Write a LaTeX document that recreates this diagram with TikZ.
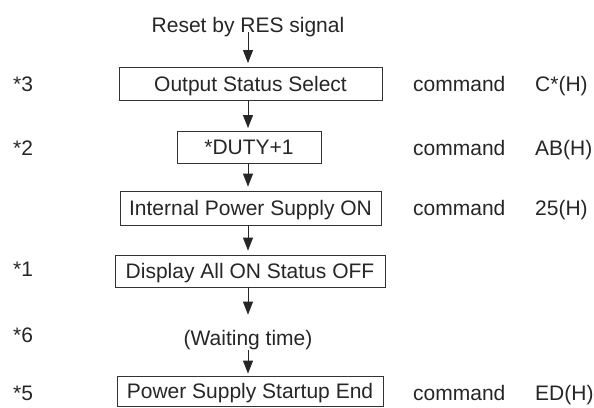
\documentclass[tikz,border=0pt]{standalone}
\usepackage{fontspec}
\setmainfont{Liberation Sans}
\usetikzlibrary{arrows.meta}
\begin{document}
\begin{tikzpicture}[x=1pt,y=-1pt,
  every node/.style={font=\fontsize{21}{24}\selectfont, text=black!85, inner sep=0pt},
  box/.style={draw=black!80, line width=0.9pt, text height=15pt, text depth=0pt, anchor=center},
  lbl/.style={anchor=base west},
  arr/.style={draw=black!85, line width=0.9pt, -{Triangle[width=10pt,length=13pt]}}]
\useasboundingbox (0,0) rectangle (594,407);
% top text
\node[anchor=base] (reset) at (248,32) {Reset by RES signal};
% boxes
\node[box, minimum width=263pt, minimum height=33pt] (b1) at (250.5,83.5) {Output Status Select};
\node[box, minimum width=144pt, minimum height=32pt] (b2) at (249,147) {*DUTY+1};
\node[box, minimum width=261pt, minimum height=34pt] (b3) at (250.5,208) {Internal Power Supply ON};
\node[box, minimum width=270pt, minimum height=32pt] (b4) at (250,271) {Display All ON Status OFF};
\node[anchor=base] (wait) at (248,345) {(Waiting time)};
\node[box, minimum width=266pt, minimum height=30pt] (b5) at (250,391) {Power Supply Startup End};
% left labels
\node[lbl] (l3) at (13,91.7) {*3};
\node[lbl] (l2) at (13,155) {*2};
\node[lbl] (l1) at (13,276.7) {*1};
\node[lbl] (l6) at (13,342) {*6};
\node[lbl] (l5) at (13,400) {*5};
% right labels
\node[lbl] (c1) at (413,91.7) {command};
\node[lbl] (h1) at (535,91.7) {C*(H)};
\node[lbl] (c2) at (413,155) {command};
\node[lbl] (h2) at (535,155) {AB(H)};
\node[lbl] (c3) at (413,215) {command};
\node[lbl] (h3) at (535,215) {25(H)};
\node[lbl] (c5) at (413,400) {command};
\node[lbl] (h5) at (535,400) {ED(H)};
% arrows
\draw[arr, shorten >=3.5pt] (reset.base) -- (reset.base |- b1.north);
\draw[arr, shorten >=2.5pt] (b1.south -| reset.base) -- (reset.base |- b2.north);
\draw[arr, shorten >=4pt] (b2.south -| reset.base) -- (reset.base |- b3.north);
\draw[arr, shorten >=4pt] (b3.south -| reset.base) -- (reset.base |- b4.north);
\draw[arr, shorten >=15pt] (b4.south -| reset.base) -- (reset.base |- wait.north);
\draw[arr, shorten >=2pt] (wait.south -| reset.base) -- (reset.base |- b5.north);
\end{tikzpicture}
\end{document}
